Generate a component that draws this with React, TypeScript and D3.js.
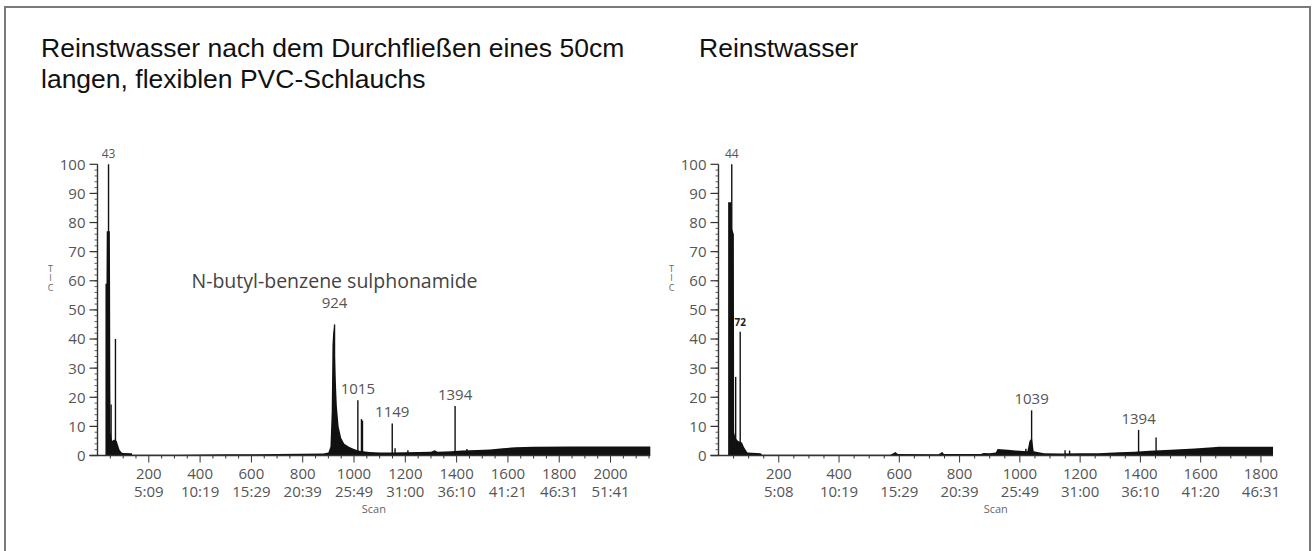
import React from 'react'
import * as d3 from 'd3'

type Pt = [number, number]

// left: pure water after flowing through 50 cm of flexible PVC hose
const leftTrace: Pt[] = [
  [31, 59], [35, 59], [36, 77], [48, 77], [49, 60], [50, 25], [51, 8], [56, 5], [66, 5.5],
  [75, 5], [80, 3.5], [86, 2], [94, 1], [100, 0.9], [134, 0.8], [136, 0.3], [300, 0.3],
  [500, 0.4], [700, 0.5], [880, 0.7], [900, 1], [908, 3], [913, 15], [916, 38], [920, 44],
  [924, 40], [928, 28], [933, 17], [940, 10], [950, 6], [962, 4], [980, 3], [1000, 2.2],
  [1020, 1.6], [1060, 1.2], [1100, 1], [1150, 1], [1200, 1.1], [1300, 1.3], [1315, 1.8],
  [1325, 1.3], [1380, 1.5], [1420, 1.7], [1480, 1.9], [1530, 2.1], [1580, 2.5], [1630, 2.8],
  [1700, 3], [1850, 3.1], [2000, 3.1], [2155, 3.1],
]
const leftSpikes: Pt[] = [
  [43, 100], [53, 17.5], [70, 40], [924, 45], [1015, 19], [1029, 12.5], [1033, 12],
  [1149, 11], [1160, 2.5], [1210, 1.8], [1394, 17], [1440, 2.2],
]
const leftPeakLabels = [
  { scan: 43, tic: 100, text: '43' },
  { scan: 924, tic: 48.5, text: '924' },
  { scan: 1015, tic: 19, text: '1015' },
  { scan: 1149, tic: 11, text: '1149' },
  { scan: 1394, tic: 17, text: '1394' },
]
const leftScanTicks = [200, 400, 600, 800, 1000, 1200, 1400, 1600, 1800, 2000]
const leftTimes = ['5:09', '10:19', '15:29', '20:39', '25:49', '31:00', '36:10', '41:21', '46:31', '51:41']

// right: pure water
const rightTrace: Pt[] = [
  [32, 87], [43, 87], [44, 78], [51, 76], [52, 8], [56, 6], [65, 5], [78, 4.5], [84, 3],
  [90, 2], [96, 1], [140, 0.8], [145, 0.3], [570, 0.3], [580, 0.8], [587, 1.2], [595, 0.5],
  [730, 0.4], [738, 0.9], [742, 1.3], [748, 0.5], [870, 0.5], [880, 0.9], [900, 0.8],
  [920, 1], [926, 2.2], [960, 2], [1000, 1.6], [1025, 1.5], [1032, 5], [1040, 6], [1046, 1.5],
  [1080, 0.8], [1140, 0.7], [1200, 0.8], [1260, 0.8], [1330, 1.1], [1380, 1.3], [1430, 1.6],
  [1500, 2], [1580, 2.4], [1640, 2.8], [1660, 3], [1840, 3],
]
const rightSpikes: Pt[] = [
  [44, 100], [57, 27], [72, 42.5], [1020, 2.3], [1039, 15.5], [1150, 1.8], [1165, 1.7],
  [1394, 8.8], [1452, 6.2],
]
const rightPeakLabels = [
  { scan: 44, tic: 100, text: '44' },
  { scan: 72, tic: 42.5, text: '72' },
  { scan: 1039, tic: 15.5, text: '1039' },
  { scan: 1394, tic: 8.8, text: '1394' },
]
const rightScanTicks = [200, 400, 600, 800, 1000, 1200, 1400, 1600, 1800]
const rightTimes = ['5:08', '10:19', '15:29', '20:39', '25:49', '31:00', '36:10', '41:20', '46:31']

const ticFont = '"Open Sans", "DejaVu Sans", sans-serif'

interface ChartProps {
  trace: Pt[]
  spikes: Pt[]
  labels: { scan: number; tic: number; text: string }[]
  scanTicks: number[]
  times: string[]
  scanMax: number
  x0: number
  x1: number
  compound?: string
}

const Chromatogram = ({ trace, spikes, labels, scanTicks, times, scanMax, x0, x1, compound }: ChartProps) => {
  const x = d3.scaleLinear().domain([0, scanMax]).range([x0, x1])
  const y = d3.scaleLinear().domain([0, 100]).range([455.5, 164.3])
  const area = d3.area<Pt>().x((d) => x(d[0])).y0(y(0)).y1((d) => y(d[1]))
  const minorX = d3.range(50, scanMax, 50)
  const minorY = d3.range(0, 100, 2)
  const majorY = d3.range(0, 101, 10)

  return (
    <g>
      <path d={area(trace) ?? ''} fill="#111" />
      {spikes.map(([s, v], i) => (
        <line key={i} x1={x(s)} x2={x(s)} y1={y(0)} y2={y(v)} stroke="#111" strokeWidth={1.4} />
      ))}

      {/* axes */}
      <line x1={x0 - 8} x2={x1} y1={y(0)} y2={y(0)} stroke="#333" strokeWidth={1.4} />
      <line x1={x0} x2={x0} y1={y(0)} y2={y(100)} stroke="#333" strokeWidth={1.4} />
      {minorX.map((t) => (
        <line key={t} x1={x(t)} x2={x(t)} y1={y(0)} y2={y(0) + (t % 200 === 0 ? 7 : 3)} stroke="#333" strokeWidth={1} />
      ))}
      {minorY.map((t) => (
        <line key={t} x1={x0 - 3} x2={x0} y1={y(t)} y2={y(t)} stroke="#333" strokeWidth={0.8} />
      ))}
      {majorY.map((t) => (
        <g key={t}>
          <line x1={x0 - 8} x2={x0} y1={y(t)} y2={y(t)} stroke="#333" strokeWidth={1.2} />
          <text x={x0 - 12} y={y(t)} dy="0.36em" textAnchor="end" fontSize={15} fill="#555" fontFamily={ticFont}>
            {t}
          </text>
        </g>
      ))}
      {scanTicks.map((t, i) => (
        <g key={t} fontFamily={ticFont} fill="#555" textAnchor="middle" fontSize={15}>
          <text x={x(t)} y={479}>{t}</text>
          <text x={x(t)} y={497}>{times[i]}</text>
        </g>
      ))}
      <text x={(x(0) + x(scanMax)) / 2} y={513} textAnchor="middle" fontSize={11} fill="#666" fontFamily={ticFont}>
        Scan
      </text>
      <g fontSize={9} fill="#666" fontFamily={ticFont} textAnchor="middle">
        <text x={x0 - 47} y={y(63)}>T</text>
        <text x={x0 - 47} y={y(60)}>I</text>
        <text x={x0 - 47} y={y(56.5)}>C</text>
      </g>

      {labels.map((l) => (
        <text
          key={l.text}
          x={x(l.scan)}
          y={y(l.tic) - 6}
          textAnchor="middle"
          fontFamily={ticFont}
          fontSize={l.text === '72' ? 10 : l.tic === 100 ? 12 : 15}
          fontWeight={l.text === '72' ? 700 : 400}
          fill={l.text === '72' ? '#222' : '#555'}
        >
          {l.text}
        </text>
      ))}
      {compound && (
        <text x={x(924)} y={y(57.5)} textAnchor="middle" fontSize={19.5} fill="#444" fontFamily={ticFont}>
          {compound}
        </text>
      )}
    </g>
  )
}

export default function App() {
  const titleFont = '"Liberation Sans", Arial, sans-serif'
  return (
    <div style={{ position: 'absolute', left: 0, top: 0 }}>
      <svg width={1315} height={551} style={{ display: 'block', background: '#fff' }}>
        <path d="M5,551 V7 H1310 V551" fill="none" stroke="#7a7a7a" strokeWidth={2} />
        <g fontFamily={titleFont} fontSize={26.5} fill="#111">
          <text x={41} y={57}>Reinstwasser nach dem Durchfließen eines 50cm</text>
          <text x={41} y={88}>langen, flexiblen PVC-Schlauchs</text>
          <text x={699} y={57}>Reinstwasser</text>
        </g>
        <Chromatogram
          trace={leftTrace}
          spikes={leftSpikes}
          labels={leftPeakLabels}
          scanTicks={leftScanTicks}
          times={leftTimes}
          scanMax={2155}
          x0={97.5}
          x1={650.3}
          compound="N-butyl-benzene sulphonamide"
        />
        <Chromatogram
          trace={rightTrace}
          spikes={rightSpikes}
          labels={rightPeakLabels}
          scanTicks={rightScanTicks}
          times={rightTimes}
          scanMax={1840}
          x0={718.5}
          x1={1273}
        />
      </svg>
    </div>
  )
}
